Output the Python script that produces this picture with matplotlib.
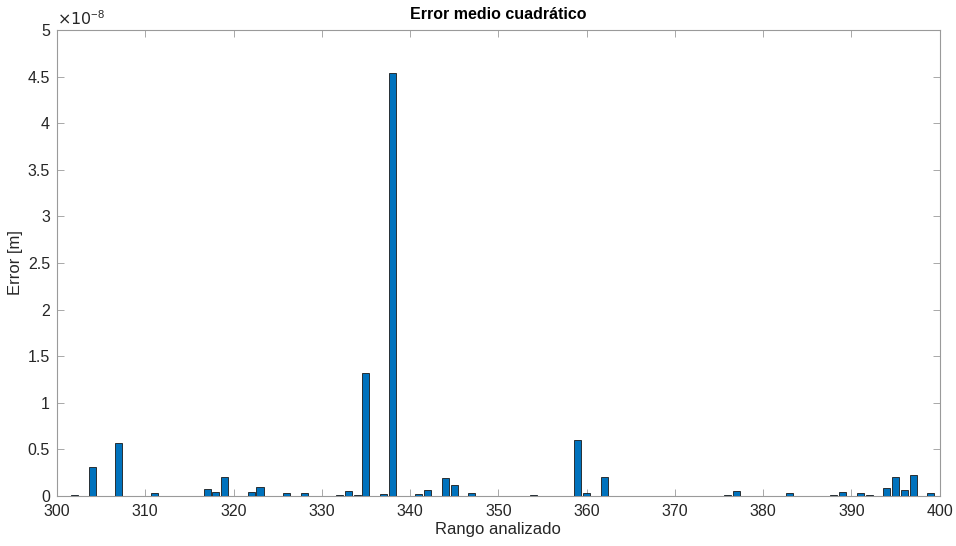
import matplotlib
matplotlib.use('Agg')
import matplotlib.pyplot as plt
from matplotlib.ticker import FuncFormatter

# values, in units of 1e-8 m
rango = [302, 304, 307, 311, 315, 316, 317, 318, 319, 322, 323, 326, 328, 329,
         331, 332, 333, 334, 335, 337, 338, 340, 341, 342, 344, 345, 347, 348,
         354, 355, 356, 359, 360, 362, 375, 376, 377, 383, 386, 388, 389, 391,
         392, 394, 395, 396, 397, 398, 399]
error = [0.01, 0.31, 0.57, 0.03, 0.005, 0.005, 0.08, 0.046, 0.20, 0.046, 0.10, 0.03, 0.03, 0.005,
         0.004, 0.015, 0.05, 0.008, 1.32, 0.02, 4.54, 0.005, 0.02, 0.064, 0.19, 0.115, 0.035, 0.005,
         0.008, 0.004, 0.004, 0.60, 0.035, 0.20, 0.005, 0.01, 0.05, 0.035, 0.005, 0.007, 0.043, 0.035,
         0.015, 0.083, 0.20, 0.06, 0.23, 0.005, 0.03]
escala = 1e-8

xticks = list(range(300, 401, 10))
yticks = [i * 0.5 for i in range(11)]

plt.rcParams['font.family'] = ['Liberation Sans', 'DejaVu Sans']

fig = plt.figure(figsize=(9.56, 5.46), dpi=100)
ax = fig.add_axes([0.0596, 0.0916, 0.9234, 0.8534])

ax.bar(rango, [e * escala for e in error], width=0.8, color='#0072BD',
       edgecolor='#1a1a1a', linewidth=0.6, zorder=3)

ax.set_xlim(300, 400)
ax.set_ylim(0, 5 * escala)
ax.set_xticks(xticks)
ax.set_yticks([t * escala for t in yticks])
ax.yaxis.set_major_formatter(FuncFormatter(lambda v, p: '%g' % round(v / escala, 3)))

grey = '#9a9a9a'
for s in ax.spines.values():
    s.set_color(grey)
    s.set_linewidth(0.8)
ax.tick_params(direction='in', length=5, width=0.6, color=grey, labelcolor='#262626',
               labelsize=11.5, top=True, right=True)
ax.tick_params(axis='x', pad=6)
ax.tick_params(axis='y', pad=5)

ax.text(0.0, 1.005, r'$\times10^{\mathregular{-8}}$', transform=ax.transAxes, fontsize=11.5,
        color='#262626', ha='left', va='bottom')

ax.set_title('Error medio cuadrático', fontsize=11.5, fontweight='bold', color='black', pad=8)
ax.set_xlabel('Rango analizado', fontsize=12, color='#262626', labelpad=2)
ax.set_ylabel('Error [m]', fontsize=12, color='#262626', labelpad=3)

fig.savefig('out.png', dpi=100)
